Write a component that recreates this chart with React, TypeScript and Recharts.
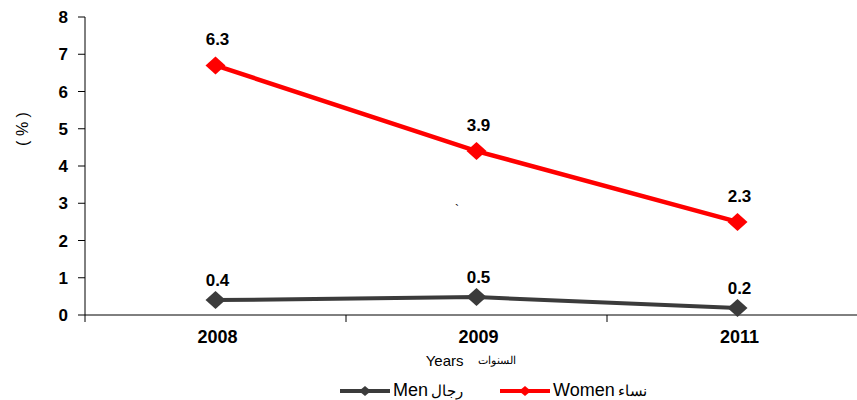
import React from 'react';
import { LineChart, Line, XAxis, YAxis, LabelList } from 'recharts';

const years = ['2008', '2009', '2011'];
const women = [6.7, 4.4, 2.5];
const womenLabels = ['6.3', '3.9', '2.3'];
const men = [0.4, 0.48, 0.19];
const menLabels = ['0.4', '0.5', '0.2'];
const yTicks = [0, 1, 2, 3, 4, 5, 6, 7, 8];

const WOMEN_COLOR = '#ff0000';
const MEN_COLOR = '#3b3b3b';
const FONT = 'Arial, "Liberation Sans", sans-serif';

const data = years.map((year, i) => ({ year, women: women[i], men: men[i] }));

const Diamond = ({ cx, cy, color }: any) => {
  if (cx == null || cy == null) return null;
  return (
    <path
      d={`M${cx - 10},${cy} L${cx},${cy - 9} L${cx + 10},${cy} L${cx},${cy + 9} Z`}
      fill={color}
    />
  );
};

const XTick = (props: any) => {
  const { x, y, payload, index } = props;
  const half = payload?.offset ?? 130.5;
  return (
    <g>
      <line x1={x - half} x2={x - half} y1={y} y2={y + 7} stroke="#000" />
      {index === years.length - 1 && (
        <line x1={x + half} x2={x + half} y1={y} y2={y + 7} stroke="#000" />
      )}
      <text x={x + 2} y={y + 28} textAnchor="middle" fontWeight="bold" fontSize={18} fill="#000" fontFamily={FONT}>
        {payload.value}
      </text>
    </g>
  );
};

const makeLabel = (labels: string[], gap: number) => (props: any) => {
  const { x, y, index } = props;
  return (
    <text x={x + 2} y={y - gap} textAnchor="middle" fontWeight="bold" fontSize={17} fill="#000" fontFamily={FONT}>
      {labels[index]}
    </text>
  );
};

const LegendItem = ({ color, en, ar }: { color: string; en: string; ar: string }) => (
  <div style={{ display: 'flex', alignItems: 'center', marginRight: 36 }}>
    <svg width={52} height={12}>
      <line x1={1} x2={51} y1={6} y2={6} stroke={color} strokeWidth={4} />
      <path d="M20,6 L26,1 L32,6 L26,11 Z" fill={color} />
    </svg>
    <span style={{ fontSize: 18, marginLeft: 2, color: '#000' }}>{en}</span>
    <span style={{ fontSize: 15, marginLeft: 3, color: '#000' }}>{ar}</span>
  </div>
);

export default function App() {
  return (
    <div style={{ position: 'fixed', left: 0, top: 0, width: 857, height: 400, overflow: 'hidden', background: '#fff', fontFamily: FONT }}>
      <LineChart width={870} height={400} data={data} margin={{ top: 17, right: 2, bottom: 55, left: 0 }}>
        <XAxis
          dataKey="year"
          scale="band"
          height={30}
          stroke="#000"
          tickLine={false}
          tickSize={0}
          tickMargin={0}
          tick={<XTick />}
          interval={0}
          label={{
            content: (p: any) => {
              const vb = p.viewBox || {};
              const cx = (vb.x ?? 85) + (vb.width ?? 783) / 2;
              const ty = (vb.y ?? 315);
              return (
                <g fontFamily={FONT} fill="#000">
                  <text x={cx - 13} y={ty + 51} textAnchor="end" fontSize={15}>Years</text>
                  <text x={cx + 1} y={ty + 49} textAnchor="start" fontSize={11}>السنوات</text>
                </g>
              );
            },
          }}
        />
        <YAxis
          width={85}
          domain={[0, 8]}
          ticks={yTicks}
          stroke="#000"
          tickSize={7}
          tickMargin={10}
          tick={{ fill: '#000', fontSize: 17, fontWeight: 'bold', fontFamily: FONT }}
          label={{
            content: (p: any) => {
              const vb = p.viewBox || {};
              const lx = (vb.x ?? 0) + 28;
              const ly = (vb.y ?? 17) + 112;
              return (
                <text x={lx} y={ly} transform={`rotate(-90, ${lx}, ${ly})`} textAnchor="middle" fontSize={16} fill="#000" fontFamily={FONT}>
                  ( % )
                </text>
              );
            },
          }}
        />
        <Line
          dataKey="women"
          stroke={WOMEN_COLOR}
          strokeWidth={4.5}
          dot={<Diamond color={WOMEN_COLOR} />}
          activeDot={false}
          isAnimationActive={false}
        >
          <LabelList dataKey="women" content={makeLabel(womenLabels, 20)} />
        </Line>
        <Line
          dataKey="men"
          stroke={MEN_COLOR}
          strokeWidth={4}
          dot={<Diamond color={MEN_COLOR} />}
          activeDot={false}
          isAnimationActive={false}
        >
          <LabelList dataKey="men" content={makeLabel(menLabels, 14)} />
        </Line>
      </LineChart>
      <div style={{ position: 'absolute', left: 455, top: 203, fontSize: 12, color: '#000' }}>`</div>
      <div style={{ position: 'absolute', left: 339, top: 380, display: 'flex', alignItems: 'center' }}>
        <LegendItem color={MEN_COLOR} en="Men" ar="رجال" />
        <LegendItem color={WOMEN_COLOR} en="Women" ar="نساء" />
      </div>
    </div>
  );
}
